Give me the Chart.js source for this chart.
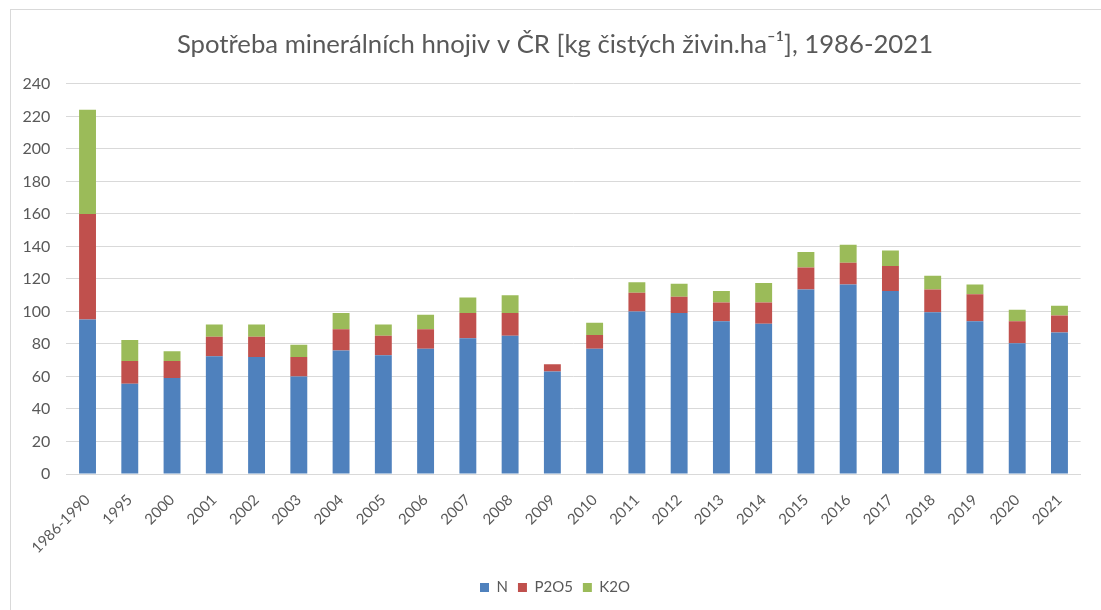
<!DOCTYPE html>
<html>
<head>
<meta charset="utf-8">
<script src="https://cdn.jsdelivr.net/npm/chart.js@4"></script>
<style>
  html, body { margin: 0; padding: 0; background: #fff; }
  #frame {
    position: absolute; left: 10px; top: 9px; width: 1100px; height: 610px;
    border-left: 1px solid #d9d9d9; border-top: 1px solid #d9d9d9;
  }
  #wrap { position: absolute; left: 0; top: 0; width: 1101px; height: 610px; }
</style>
</head>
<body>
<div id="frame"></div>
<div id="wrap"><canvas id="chart"></canvas></div>
<script>
const years = ['1986-1990', '1995', '2000', '2001', '2002', '2003', '2004', '2005',
  '2006', '2007', '2008', '2009', '2010', '2011', '2012', '2013', '2014', '2015',
  '2016', '2017', '2018', '2019', '2020', '2021'];

const nitrogen = [95, 55.5, 59, 72.5, 72, 60, 76, 73, 77, 83.5, 85, 63, 77, 100,
  99, 94, 92.5, 113.5, 116.5, 112.5, 99.5, 94, 80.5, 87];
const phosphorus = [65, 14, 10.5, 12, 12.5, 12, 13, 12, 12, 15.5, 14, 4.5, 8.5, 11.5,
  10, 11.5, 13, 13.5, 13.5, 15.5, 14, 16.5, 13.5, 10.5];
const potassium = [64, 13, 6, 7.5, 7.5, 7.5, 10, 7, 9, 9.5, 11, 0, 7.5, 6.5,
  8, 7, 12, 9.5, 11, 9.5, 8.5, 6, 7, 6];

const yTicks = [0, 20, 40, 60, 80, 100, 120, 140, 160, 180, 200, 220, 240];

const textColor = '#595959';
const gridColor = '#d9d9d9';
const fontFamily = 'Lato, "Open Sans", sans-serif';

function series(label, data, color) {
  return {
    label: label,
    data: data,
    backgroundColor: color,
    borderWidth: 0,
    categoryPercentage: 1,
    barPercentage: 0.4
  };
}

new Chart(document.getElementById('chart'), {
  type: 'bar',
  data: {
    labels: years,
    datasets: [
      series('N', nitrogen, '#4f81bd'),
      series('P2O5', phosphorus, '#c0504d'),
      series('K2O', potassium, '#9bbb59')
    ]
  },
  options: {
    responsive: true,
    maintainAspectRatio: false,
    animation: false,
    layout: { padding: { left: 9, right: 0, top: 0, bottom: 5 } },
    plugins: {
      title: {
        display: true,
        text: 'Spotřeba minerálních hnojiv v ČR [kg čistých živin.ha⁻¹], 1986-2021',
        color: textColor,
        font: { family: fontFamily, size: 25.7, weight: 'normal' },
        padding: { top: 29, bottom: 24 }
      },
      legend: {
        position: 'bottom',
        labels: {
          color: textColor,
          font: { family: fontFamily, size: 15 },
          boxWidth: 9,
          boxHeight: 9,
          padding: 10
        }
      },
      tooltip: { enabled: false }
    },
    scales: {
      x: {
        stacked: true,
        grid: { display: false, drawTicks: false },
        border: { display: true, color: gridColor },
        ticks: {
          color: textColor,
          font: { family: fontFamily, size: 15 },
          minRotation: 45,
          maxRotation: 45,
          padding: 17,
          autoSkip: false
        },
        afterFit: s => { s.height = 96; }
      },
      y: {
        stacked: true,
        min: 0,
        max: 240,
        afterBuildTicks: s => { s.ticks = yTicks.map(v => ({ value: v })); },
        grid: { color: gridColor, drawTicks: false },
        border: { display: false },
        ticks: {
          color: textColor,
          font: { family: fontFamily, size: 16 },
          padding: 16
        },
        afterFit: s => { s.width = 57.4; }
      },
      // empty strip on the right so the plot ends where the reference does
      spacer: {
        type: 'linear',
        position: 'right',
        grid: { display: false, drawTicks: false },
        border: { display: false },
        ticks: { display: false },
        afterFit: s => { s.width = 20.4; }
      }
    }
  }
});
</script>
</body>
</html>
